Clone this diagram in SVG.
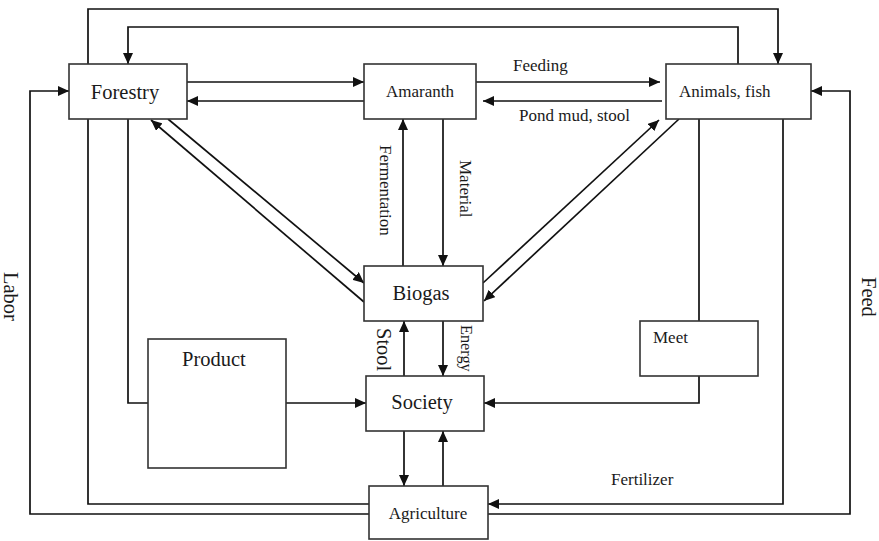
<svg xmlns="http://www.w3.org/2000/svg" width="879" height="541" viewBox="0 0 879 541">
  <style>
    .box { fill: #fff; stroke: #333; stroke-width: 1.6; }
    .ln { fill: none; stroke: #111; stroke-width: 1.7; }
    .ar { fill: none; stroke: #111; stroke-width: 1.7; marker-end: url(#head); }
    .t { font-family: 'Liberation Serif', 'DejaVu Serif', serif; fill: #1a1a1a; }
    .big { font-size: 20.5px; }
    .sm { font-size: 17px; }
  </style>
  <defs>
    <marker id="head" markerUnits="userSpaceOnUse" markerWidth="12" markerHeight="10" refX="11" refY="5" orient="auto">
      <path d="M0,0 L11,5 L0,10 Z" fill="#111"/>
    </marker>
  </defs>

  <rect width="879" height="541" fill="#fff"/>

  <!-- connectors -->
  <g id="connectors">
    <!-- top loops -->
    <polyline class="ar" points="88,64 88,9 778,9 778,64"/>
    <polyline class="ar" points="738,64 738,27 128,27 128,64"/>
    <!-- Forestry <-> Amaranth -->
    <line class="ar" x1="187" y1="82" x2="364" y2="82"/>
    <line class="ar" x1="364" y1="101" x2="187" y2="101"/>
    <!-- Amaranth <-> Animals -->
    <line class="ar" x1="476" y1="82" x2="660" y2="82"/>
    <line class="ar" x1="662" y1="101" x2="483" y2="101"/>
    <!-- Forestry <-> Biogas -->
    <line class="ar" x1="364" y1="302" x2="151" y2="120"/>
    <line class="ar" x1="168" y1="119" x2="364" y2="283"/>
    <!-- Animals <-> Biogas -->
    <line class="ar" x1="483" y1="283" x2="659" y2="120"/>
    <line class="ar" x1="679" y1="119" x2="484" y2="301"/>
    <!-- Amaranth <-> Biogas -->
    <line class="ar" x1="403" y1="266" x2="403" y2="119"/>
    <line class="ar" x1="443" y1="119" x2="443" y2="266"/>
    <!-- Biogas <-> Society -->
    <line class="ar" x1="404" y1="376" x2="404" y2="321"/>
    <line class="ar" x1="443" y1="321" x2="443" y2="376"/>
    <!-- Society <-> Agriculture -->
    <line class="ar" x1="404" y1="431" x2="404" y2="486"/>
    <line class="ar" x1="443" y1="486" x2="443" y2="431"/>
    <!-- Forestry -> Product -> Society -->
    <polyline class="ln" points="128,119 128,403 148,403"/>
    <line class="ar" x1="286" y1="403" x2="366" y2="403"/>
    <!-- Animals -> Meet -> Society -->
    <line class="ln" x1="699" y1="119" x2="699" y2="321"/>
    <polyline class="ar" points="699,376 699,403 484,403"/>
    <!-- Forestry -> Agriculture -->
    <polyline class="ln" points="88,119 88,504 369,504"/>
    <!-- Animals -> Agriculture (fertilizer) -->
    <polyline class="ar" points="783,119 783,504 488,504"/>
    <!-- Labor and Feed -->
    <polyline class="ar" points="369,514 30,514 30,91 69,91"/>
    <polyline class="ar" points="488,514 850,514 850,91 811,91"/>
  </g>

  <!-- nodes -->
  <g id="forestry">
    <rect class="box" x="69" y="64" width="118" height="55"/>
    <text class="t big" x="125" y="99" text-anchor="middle">Forestry</text>
  </g>
  <g id="amaranth">
    <rect class="box" x="364" y="64" width="112" height="55"/>
    <text class="t sm" x="420" y="97" text-anchor="middle">Amaranth</text>
  </g>
  <g id="animals">
    <rect class="box" x="666" y="64" width="145" height="55"/>
    <text class="t sm" x="679" y="97">Animals, fish</text>
  </g>
  <g id="biogas">
    <rect class="box" x="364" y="266" width="119" height="55"/>
    <text class="t big" x="421" y="300" text-anchor="middle">Biogas</text>
  </g>
  <g id="society">
    <rect class="box" x="366" y="376" width="118" height="55"/>
    <text class="t big" x="422" y="409" text-anchor="middle">Society</text>
  </g>
  <g id="product">
    <rect class="box" x="148" y="339" width="138" height="129"/>
    <text class="t big" x="182" y="366">Product</text>
  </g>
  <g id="meet">
    <rect class="box" x="640" y="321" width="118" height="55"/>
    <text class="t sm" x="653" y="343">Meet</text>
  </g>
  <g id="agriculture">
    <rect class="box" x="369" y="486" width="119" height="53"/>
    <text class="t sm" x="428" y="519" text-anchor="middle">Agriculture</text>
  </g>

  <!-- connector labels -->
  <g id="labels">
    <text class="t sm" x="513" y="71">Feeding</text>
    <text class="t sm" x="519" y="121">Pond mud, stool</text>
    <text class="t sm" transform="translate(380,145) rotate(90)">Fermentation</text>
    <text class="t sm" transform="translate(460,160) rotate(90)">Material</text>
    <text class="t" font-size="20.5" transform="translate(377,328) rotate(90)">Stool</text>
    <text class="t" font-size="16.3" transform="translate(461,325) rotate(90)">Energy</text>
    <text class="t sm" x="611" y="485">Fertilizer</text>
    <text class="t" font-size="20.5" transform="translate(4,272) rotate(90)">Labor</text>
    <text class="t" font-size="20.5" transform="translate(862,277) rotate(90)">Feed</text>
  </g>
</svg>
